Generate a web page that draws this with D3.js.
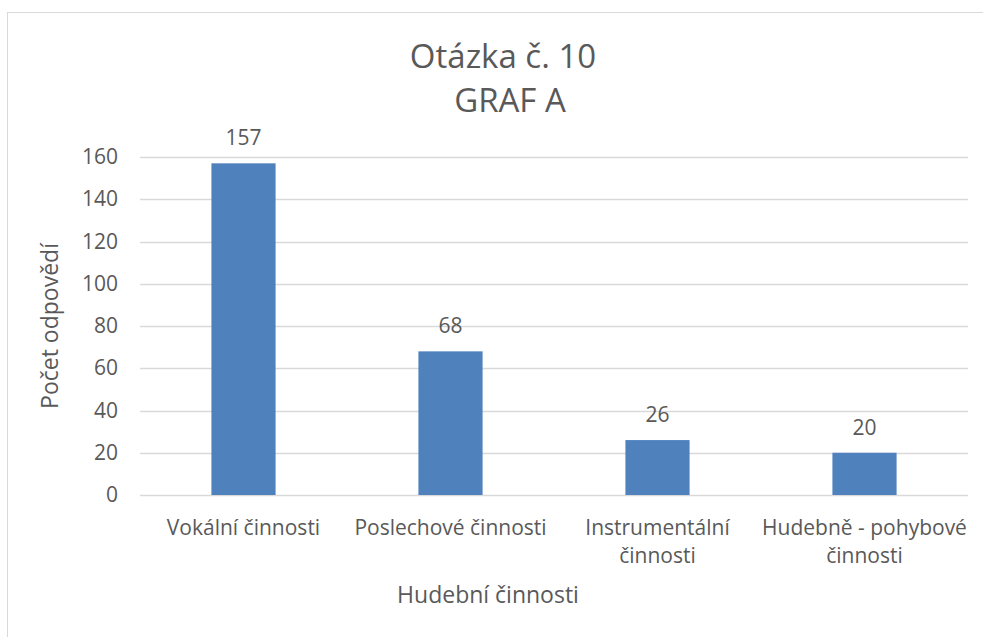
<!DOCTYPE html>
<html>
<head>
<meta charset="utf-8">
<script src="https://cdn.jsdelivr.net/npm/d3@7"></script>
<style>
  body { margin: 0; background: #fff; }
  text { font-family: "Open Sans", "Noto Sans", sans-serif; fill: #595959; }
</style>
</head>
<body>
<script>
// data
var categories = [["Vokální činnosti"], ["Poslechové činnosti"], ["Instrumentální", "činnosti"], ["Hudebně - pohybové", "činnosti"]];
var values = [157, 68, 26, 20];
var yTicks = [0, 20, 40, 60, 80, 100, 120, 140, 160];

var width = 983, height = 637;
var plot = { left: 140, right: 968, top: 157, bottom: 495 };

var svg = d3.select('body').append('svg')
    .attr('width', width)
    .attr('height', height);

// chart border
svg.append('rect')
    .attr('x', 7.5).attr('y', 12.5)
    .attr('width', 990).attr('height', 640)
    .attr('fill', 'none')
    .attr('stroke', '#d9d9d9')
    .attr('stroke-width', 1);

var x = d3.scaleBand()
    .domain(d3.range(categories.length))
    .range([plot.left, plot.right])
    .paddingInner(0.69)
    .paddingOuter(0.345);

var y = d3.scaleLinear()
    .domain([0, 160])
    .range([plot.bottom, plot.top]);

// gridlines
svg.append('g').selectAll('line')
    .data(yTicks)
    .enter()
    .append('line')
    .attr('x1', plot.left).attr('x2', plot.right)
    .attr('y1', function (d) { return Math.round(y(d)) + 0.5; })
    .attr('y2', function (d) { return Math.round(y(d)) + 0.5; })
    .attr('stroke', '#d9d9d9')
    .attr('stroke-width', 1.5);

// y axis labels
var yAxis = d3.axisLeft(y).tickValues(yTicks).tickSize(0).tickPadding(22);
var yg = svg.append('g')
    .attr('transform', 'translate(' + plot.left + ',0)')
    .call(yAxis);
yg.select('.domain').remove();
yg.selectAll('text')
    .style('font-size', '21px')
    .style('font-family', '"Open Sans", "Noto Sans", sans-serif')
    .attr('fill', '#595959');

// bars
svg.append('g').selectAll('rect')
    .data(values)
    .enter()
    .append('rect')
    .attr('x', function (d, i) { return x(i); })
    .attr('y', function (d) { return y(d); })
    .attr('width', x.bandwidth())
    .attr('height', function (d) { return y(0) - y(d); })
    .attr('fill', '#4f81bd');

// value labels
svg.append('g').selectAll('text')
    .data(values)
    .enter()
    .append('text')
    .attr('x', function (d, i) { return x(i) + x.bandwidth() / 2; })
    .attr('y', function (d) { return y(d) - 18; })
    .attr('text-anchor', 'middle')
    .style('font-size', '21px')
    .text(function (d) { return d; });

// category labels
var catG = svg.append('g').selectAll('text')
    .data(categories)
    .enter()
    .append('text')
    .attr('x', function (d, i) { return x(i) + x.bandwidth() / 2; })
    .attr('y', 535)
    .attr('text-anchor', 'middle')
    .style('font-size', '21px');
catG.selectAll('tspan')
    .data(function (d) { return d; })
    .enter()
    .append('tspan')
    .attr('x', function () { return d3.select(this.parentNode).attr('x'); })
    .attr('dy', function (d, i) { return i === 0 ? 0 : 28; })
    .text(function (d) { return d; });

// titles
svg.append('text')
    .attr('x', 503).attr('y', 68)
    .attr('text-anchor', 'middle')
    .style('font-size', '33px')
    .text('Otázka č. 10');
svg.append('text')
    .attr('x', 510).attr('y', 112)
    .attr('text-anchor', 'middle')
    .style('font-size', '33px')
    .text('GRAF A');

svg.append('text')
    .attr('x', 488).attr('y', 603)
    .attr('text-anchor', 'middle')
    .style('font-size', '23px')
    .text('Hudební činnosti');

svg.append('text')
    .attr('transform', 'translate(58,326) rotate(-90)')
    .attr('text-anchor', 'middle')
    .style('font-size', '23px')
    .text('Počet odpovědí');
</script>
</body>
</html>
